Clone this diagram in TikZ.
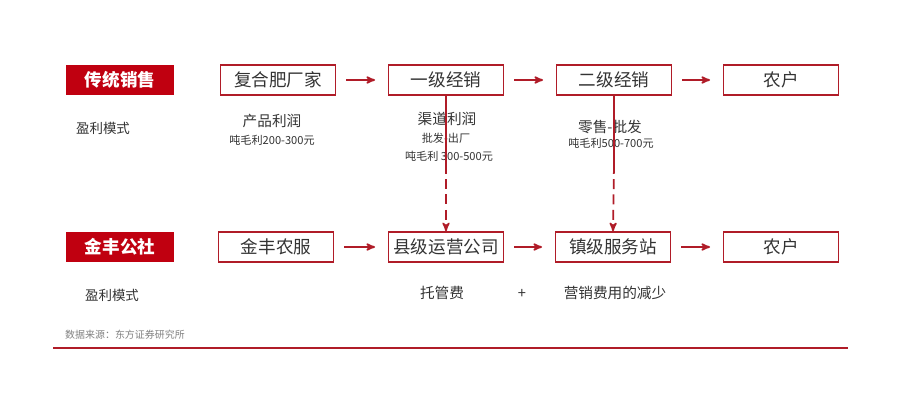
\documentclass[tikz,border=0pt]{standalone}
\usepackage{fontspec}
\setmainfont{Noto Sans CJK SC}
\usetikzlibrary{arrows}
\definecolor{deepred}{HTML}{C00010}
\definecolor{linered}{HTML}{B01C28}
\definecolor{txtgray}{HTML}{333333}
\tikzset{
	boxnode/.style = {
		align=center,
		inner sep=0pt,
		text centered,
		minimum width=3.45cm,
		minimum height=0.9cm,
		font=\fontsize{15}{17}\selectfont
	},
	box_r/.style = {
		boxnode,
		minimum width=3.25cm,
		text=white,
		fill=deepred,
		font=\fontsize{15}{17}\selectfont\bfseries
	},
	box_w/.style = {
		boxnode,
		text=txtgray,
		draw=linered,
		line width=1.4pt
	},
	txt_big/.style = {
		text=txtgray,
		inner sep=0pt,
		font=\fontsize{12.5}{14}\selectfont
	},
	txt_mid/.style = {
		txt_big,
		font=\fontsize{11.5}{13}\selectfont
	},
	txt_small/.style = {
		text=txtgray,
		inner sep=0pt,
		font=\fontsize{9.5}{11}\selectfont
	},
	flow/.style = {
		->,
		>=stealth',
		draw=linered,
		line width=1.5pt,
		shorten <=0.3cm,
		shorten >=0.38cm
	},
	drop/.style = {
		draw=linered,
		line width=1.5pt
	},
}

\begin{document}
\begin{tikzpicture}[x=0.03cm, y=-0.03cm]
\useasboundingbox (0,0) rectangle (900,400);
% upper row: traditional channel
\node [box_r] (ct) at (120,80) {传统销售};
\node [box_w] (fh) at (278,80) {复合肥厂家};
\node [box_w] (yj) at (446,80) {一级经销};
\node [box_w] (ej) at (614,80) {二级经销};
\node [box_w] (nh1) at (781,80) {农户};
\node [txt_mid] (pm1) at (103,128) {盈利模式};
\node [txt_big] (cp) at (272,121) {产品利润};
\node [txt_small] (cp_v) at (272,140) {吨毛利200-300元};
\node [txt_big] (qd) at (447,119) {渠道利润};
\node [txt_small] (qd_a) at (446,138) {批发-出厂};
\node [txt_small] (qd_v) at (449,156) {吨毛利 300-500元};
\node [txt_big] (ls) at (610,127) {零售-批发};
\node [txt_small] (ls_v) at (611,143) {吨毛利500-700元};
% lower row: jinfeng
\node [box_r] (jf) at (120,247) {金丰公社};
\node [box_w] (jn) at (276,247) {金丰农服};
\node [box_w] (xj) at (446,247) {县级运营公司};
\node [box_w] (zj) at (613,247) {镇级服务站};
\node [box_w] (nh2) at (781,247) {农户};
\node [txt_mid] (pm2) at (112,295) {盈利模式};
\node [txt_big] (tg) at (442,293) {托管费};
\node [txt_big] (plus) at (522,294) {+};
\node [txt_big] (yx) at (615,293) {营销费用的减少};
\node [text=gray, inner sep=0pt, anchor=west, font=\fontsize{8.5}{10}\selectfont] (src) at (65,335) {数据来源：东方证券研究所};
% connectors
\draw [flow] (fh) -- (yj);
\draw [flow] (yj) -- (ej);
\draw [flow] (ej) -- (nh1);
\draw [flow] (jn) -- (xj);
\draw [flow] (xj) -- (zj);
\draw [flow] (zj) -- (nh2);
\path (yj.south) ++(0,68) coordinate (yj_m);
\path (ej.south) ++(0,68) coordinate (ej_m);
\draw [drop] (yj.south) -- (yj_m);
\draw [drop] (ej.south) -- (ej_m);
\draw [drop, ->, >=stealth', dash pattern=on 0.3cm off 0.16cm] (yj_m) -- (xj.north);
\draw [drop, ->, >=stealth', dash pattern=on 0.3cm off 0.16cm] (ej_m) -- (zj.north);
\draw [linered, line width=1.2pt] (53,348) coordinate (rule_l) -- (848,348) coordinate (rule_r);
\end{tikzpicture}
\end{document}
